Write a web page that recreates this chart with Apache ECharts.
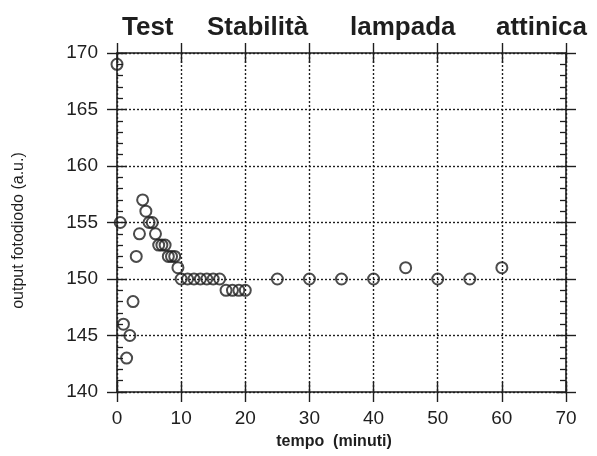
<!DOCTYPE html>
<html>
<head>
<meta charset="utf-8">
<script src="https://cdn.jsdelivr.net/npm/echarts@6/dist/echarts.min.js"></script>
<style>
html,body{margin:0;padding:0;background:#fff;}
#c{width:597px;height:456px;}
</style>
</head>
<body>
<div id="c"></div>
<script>
// Data
var titleWords = ['Test', 'Stabilità', 'lampada', 'attinica'];
var timeMin = [0, 0.5, 1, 1.5, 2, 2.5, 3, 3.5, 4, 4.5, 5, 5.5, 6, 6.5, 7, 7.5, 8, 8.5, 9, 9.5,
  10, 11, 12, 13, 14, 15, 16, 17, 18, 19, 20, 25, 30, 35, 40, 45, 50, 55, 60];
var outputValues = [169, 155, 146, 143, 145, 148, 152, 154, 157, 156, 155, 155, 154, 153, 153, 153, 152, 152, 152, 151,
  150, 150, 150, 150, 150, 150, 150, 149, 149, 149, 149, 150, 150, 150, 150, 151, 150, 150, 151];
var xTicks = [0, 10, 20, 30, 40, 50, 60, 70];
var yTicks = [140, 145, 150, 155, 160, 165, 170];
var xName = 'tempo  (minuti)';
var yName = 'output fotodiodo (a.u.)';

var ink = '#1e1e1e';
var FONT = 'Liberation Sans, Arial, Helvetica, sans-serif';
var points = timeMin.map(function (t, i) { return [t, outputValues[i]]; });

var titleLefts = [117, 202, 345, 491];
var titles = titleWords.map(function (w, i) {
  return { text: w, left: titleLefts[i], top: 10,
    textStyle: { fontFamily: FONT, fontSize: 26, fontWeight: 'bold', color: ink } };
});

function xAx(pos, inside, main) {
  var lab = main && pos === 'bottom' && !inside;
  return {
    type: 'value', position: pos, min: xTicks[0], max: xTicks[xTicks.length - 1], interval: 10,
    axisLine: { show: main, onZero: false, lineStyle: { color: ink, width: 1.6 } },
    axisTick: { show: true, inside: inside, length: 10, lineStyle: { color: ink, width: 1.4 } },
    axisLabel: { show: lab, margin: 17, fontFamily: FONT, fontSize: 19, color: ink },
    splitLine: { show: lab, lineStyle: { color: ink, width: 1.4, type: [2, 2] } },
    name: lab ? xName : '',
    nameLocation: 'middle', nameGap: 42,
    nameTextStyle: { fontFamily: FONT, fontSize: 16, fontWeight: 'bold', color: ink, padding: [0, 15, 0, 0] }
  };
}
function yAx(pos, inside, main) {
  var lab = main && pos === 'left' && !inside;
  return {
    type: 'value', position: pos, min: yTicks[0], max: yTicks[yTicks.length - 1], interval: 5,
    axisLine: { show: main, onZero: false, lineStyle: { color: ink, width: 1.6 } },
    axisTick: { show: true, inside: inside, length: 10, lineStyle: { color: ink, width: 1.4 } },
    minorTick: { show: inside, splitNumber: 5, length: 6, lineStyle: { color: ink, width: 1.3 } },
    axisLabel: { show: lab, margin: 19, fontFamily: FONT, fontSize: 19, color: ink },
    splitLine: { show: lab, lineStyle: { color: ink, width: 1.4, type: [2, 2] } },
    name: lab ? yName : '',
    nameLocation: 'middle', nameGap: 90,
    nameTextStyle: { fontFamily: FONT, fontSize: 16, color: ink, padding: [0, 16, 0, 0] }
  };
}

var chart = echarts.init(document.getElementById('c'), null, { renderer: 'canvas' });
chart.setOption({
  backgroundColor: '#ffffff',
  animation: false,
  title: titles,
  grid: { left: 117, right: 31, top: 53, bottom: 64, containLabel: false },
  xAxis: [xAx('bottom', false, true), xAx('bottom', true, false), xAx('top', false, true), xAx('top', true, false)],
  yAxis: [yAx('left', false, true), yAx('left', true, false), yAx('right', false, true), yAx('right', true, false)],
  series: [{
    type: 'scatter', xAxisIndex: 0, yAxisIndex: 0,
    data: points, symbol: 'circle', symbolSize: 11,
    itemStyle: { color: 'rgba(255,255,255,0)', borderColor: ink, borderWidth: 2 }
  }]
});
</script>
</body>
</html>
